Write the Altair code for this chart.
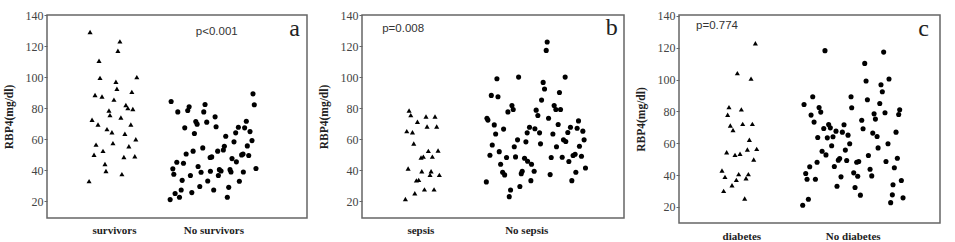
import altair as alt
import pandas as pd

# ---------------- data (x: group position 1/2 plus jitter, y: RBP4 mg/dl) ----------------
a_cats = ["survivors", "No survivors"]
a_tri_x = [0.76, 1.06, 1.04, 0.85, 0.86, 1.23, 1.02, 1.03, 0.81, 0.88, 1.18, 1.00, 1.12, 0.95, 1.14, 1.19, 0.96, 0.78,
           1.07, 0.84, 1.17, 0.93, 0.98, 1.11, 1.22, 0.82, 0.99, 1.15, 0.89, 0.80, 1.10, 1.21, 0.91, 0.92, 1.08, 0.75]
a_tri_y = [129, 123, 117, 110.5, 99.5, 100, 97, 92.5, 88.5, 87.5, 90.5, 85.5, 82, 78.5, 80, 79.5, 75.5, 72.5,
           74, 69.5, 69.5, 66.5, 64.5, 63.5, 60, 56.5, 57.5, 55.5, 52.5, 50, 48.5, 49, 44, 39.5, 37.5, 33]
a_cir_x = [1.575, 1.642, 1.742, 1.756, 1.916, 1.903, 1.823, 1.836, 1.712, 1.933, 2.017, 2.027, 1.809, 2.398, 2.411,
           2.331, 2.251, 2.314, 2.368, 2.224, 2.124, 2.388, 2.207, 2.110, 2.341, 1.893, 1.796, 2.043, 2.100, 1.726,
           2.284, 2.298, 2.355, 1.967, 1.983, 2.187, 2.231, 1.632, 1.699, 1.846, 1.592, 2.428, 2.060, 2.077, 1.970,
           1.876, 2.167, 2.177, 2.301, 1.602, 2.050, 1.769, 1.686, 1.943, 2.261, 1.863, 2.154, 1.676, 2.003, 1.783,
           1.615, 1.659, 1.565, 2.140]
a_cir_y = [84.3, 77.6, 78.5, 80.9, 82.4, 77.6, 71.4, 69.7, 67.3, 71.0, 74.4, 68.0, 63.7, 89.2, 82.2,
           71.6, 67.7, 67.3, 64.9, 64.1, 61.9, 59.1, 58.3, 55.5, 55.7, 54.4, 52.3, 52.3, 53.0, 50.5,
           49.9, 50.5, 49.5, 48.2, 48.6, 47.5, 45.4, 45.2, 44.5, 42.4, 40.9, 41.1, 40.4, 39.5, 39.4,
           38.7, 40.4, 38.9, 38.9, 37.4, 36.6, 36.6, 33.5, 33.1, 32.9, 29.5, 29.0, 27.3, 27.3, 25.6,
           25.0, 22.6, 21.1, 22.6]

b_cats = ["sepsis", "No sepsis"]
b_tri_x = [0.893, 0.909, 1.053, 1.138, 0.972, 1.063, 1.154, 0.871, 0.925, 0.937, 1.075, 1.167, 1.006, 1.028,
           1.113, 0.884, 1.013, 1.101, 1.091, 1.179, 0.962, 0.984, 1.038, 1.129, 0.947, 0.858]
b_tri_y = [78.5, 75.5, 74.6, 74.6, 71.2, 68.2, 68.2, 65.2, 64.5, 57.2, 52.5, 52.7, 48.2, 48.8,
           48.8, 41.1, 39.4, 39.4, 37.0, 37.0, 33.5, 33.8, 27.7, 27.7, 25.2, 21.5]
b_cir_x = [2.198, 2.189, 1.723, 1.928, 2.368, 2.160, 2.173, 2.314, 1.670, 1.733, 2.145, 1.865, 1.877, 1.827,
           2.264, 2.280, 2.324, 2.094, 2.110, 1.629, 1.638, 2.211, 1.698, 2.302, 2.494, 1.786, 2.031, 2.082,
           2.418, 2.481, 1.711, 2.009, 2.126, 2.252, 2.393, 2.535, 2.547, 2.352, 2.374, 1.918, 1.997, 2.135,
           1.679, 1.887, 2.286, 2.503, 1.657, 1.745, 1.814, 1.899, 1.984, 2.013, 2.050, 2.236, 2.340, 2.443,
           2.462, 2.522, 2.403, 1.758, 2.560, 1.777, 1.796, 1.962, 1.953, 2.075, 2.226, 2.469, 1.623, 2.044,
           2.431, 1.940, 1.852, 1.840]
b_cir_y = [122.6, 117.2, 98.9, 100.0, 100.0, 96.6, 92.3, 90.1, 88.2, 87.3, 85.2, 81.7, 79.1, 77.6,
           81.7, 79.1, 79.1, 78.7, 75.3, 73.5, 72.3, 73.5, 69.2, 69.5, 71.8, 66.5, 67.7, 66.7,
           67.7, 67.1, 63.4, 64.1, 64.1, 63.4, 64.3, 65.2, 59.6, 59.6, 58.5, 59.6, 58.3, 57.0,
           56.3, 55.1, 55.1, 55.5, 49.7, 52.0, 48.2, 48.6, 47.7, 45.8, 43.9, 48.2, 48.4, 49.5,
           50.3, 49.0, 45.6, 43.9, 41.5, 38.7, 37.0, 39.4, 37.8, 39.4, 37.2, 38.7, 32.5, 33.3,
           33.3, 29.5, 27.3, 23.0]

c_cats = ["diabetes", "No diabetes"]
c_tri_x = [1.126, 0.964, 1.087, 0.889, 1.000, 0.877, 0.901, 0.925, 1.012, 1.099, 1.072, 0.868, 1.054,
           1.138, 0.943, 0.988, 1.111, 0.826, 0.853, 0.976, 1.063, 0.955, 1.042, 0.916, 0.841, 1.030]
c_tri_y = [122.8, 104.1, 100.6, 82.7, 81.3, 77.9, 71.2, 68.3, 72.2, 72.2, 62.2, 54.4, 56.1,
           56.5, 52.7, 53.4, 49.8, 42.9, 38.9, 40.6, 40.6, 37.0, 38.0, 33.6, 30.1, 25.3]
c_cir_x = [1.751, 2.278, 2.108, 2.120, 2.326, 2.254, 2.266, 1.641, 1.985, 2.132, 2.243, 1.563, 1.698, 1.713,
           1.991, 2.422, 2.413, 2.290, 2.192, 2.204, 1.626, 1.653, 2.081, 1.784, 1.799, 1.922, 1.740, 2.093,
           1.850, 1.907, 1.958, 2.180, 2.219, 2.389, 1.686, 1.772, 1.823, 1.973, 1.811, 2.228, 2.317, 1.725,
           1.934, 1.760, 2.141, 1.883, 1.871, 1.946, 2.401, 1.680, 2.036, 2.054, 2.299, 1.835, 1.614, 2.156,
           2.374, 1.578, 2.009, 2.171, 2.045, 1.895, 1.590, 1.665, 2.437, 2.362, 1.859, 2.021, 2.069, 2.356,
           2.452, 1.602, 2.341, 1.551]
c_cir_y = [118.2, 117.3, 110.2, 99.1, 100.4, 96.8, 92.4, 89.2, 89.2, 87.3, 85.0, 84.4, 82.5, 79.6,
           82.3, 81.1, 78.1, 79.2, 78.5, 75.2, 77.7, 73.3, 74.5, 71.8, 69.7, 71.6, 69.3, 69.1,
           67.6, 67.0, 65.1, 66.4, 64.3, 67.0, 63.6, 63.4, 64.1, 59.7, 58.4, 57.1, 59.7, 55.0,
           55.7, 52.7, 52.3, 50.4, 49.4, 49.2, 50.6, 48.1, 48.1, 48.5, 48.5, 45.4, 45.2, 43.7,
           44.6, 41.0, 41.4, 39.5, 39.3, 38.9, 37.4, 37.4, 36.6, 33.9, 33.0, 32.2, 27.4, 27.6,
           25.7, 24.8, 22.7, 21.1]

p_texts = ["p<0.001", "p=0.008", "p=0.774"]
letters = ["a", "b", "c"]
y_ticks = [20, 40, 60, 80, 100, 120, 140]

SERIF = "Liberation Serif"
SANS = "Liberation Sans"


def make_panel(tri_x, tri_y, cir_x, cir_y, cats, xdom, ydom, w, h, ptext, pxy, letter, lxy, lab_pad):
    df_t = pd.DataFrame({"x": tri_x, "y": tri_y})
    df_c = pd.DataFrame({"x": cir_x, "y": cir_y})
    xs = alt.Scale(domain=xdom, nice=False, zero=False)
    ys = alt.Scale(domain=ydom, nice=False, zero=False)
    xax = alt.Axis(values=[1, 2], labelExpr=f"datum.value == 1 ? '{cats[0]}' : '{cats[1]}'",
                   domain=False, ticks=False, grid=False, title=None, labelFont=SERIF,
                   labelFontWeight="bold", labelFontSize=11, labelColor="#222", labelPadding=lab_pad)
    yax = alt.Axis(values=y_ticks, grid=False, domain=False, tickSize=3, tickColor="#666",
                   tickWidth=1, labelFont=SERIF, labelFontSize=12, labelColor="#444", labelPadding=1,
                   labelOverlap=False, labelFlush=False, labelBound=False,
                   title="RBP4(mg/dl)", titleFont=SERIF, titleFontWeight="bold", titleFontSize=11.5,
                   titleColor="#222", titleX=-38, titleBaseline="middle")
    tri = alt.Chart(df_t).mark_point(shape="triangle-up", filled=True, color="black", size=26,
                                     opacity=1).encode(
        x=alt.X("x:Q", scale=xs, axis=xax), y=alt.Y("y:Q", scale=ys, axis=yax))
    cir = alt.Chart(df_c).mark_circle(color="black", size=26, opacity=1).encode(
        x=alt.X("x:Q", scale=xs, axis=xax), y=alt.Y("y:Q", scale=ys, axis=yax))
    ptx = alt.Chart(pd.DataFrame({"t": [ptext]})).mark_text(
        font=SANS, fontSize=11.5, color="#333", baseline="middle", align="center").encode(
        x=alt.datum(pxy[0], scale=xs, axis=xax), y=alt.datum(pxy[1], scale=ys, axis=yax), text="t:N")
    let = alt.Chart(pd.DataFrame({"t": [letter]})).mark_text(
        font=SERIF, fontSize=24, color="#222", baseline="alphabetic", align="center").encode(
        x=alt.datum(lxy[0], scale=xs, axis=xax), y=alt.datum(lxy[1], scale=ys, axis=yax), text="t:N")
    return alt.layer(tri, cir, ptx, let).properties(width=w, height=h)


pa = make_panel(a_tri_x, a_tri_y, a_cir_x, a_cir_y, a_cats, [0.327, 2.941], [9.25, 140], 260, 203,
                p_texts[0], (2.034, 128.8), letters[0], (2.816, 126.5), 6)
pb = make_panel(b_tri_x, b_tri_y, b_cir_x, b_cir_y, b_cats, [0.448, 2.924], [9.25, 140], 262, 203,
                p_texts[1], (0.837, 130.8), letters[1], (2.808, 126.9), 6)
pc = make_panel(c_tri_x, c_tri_y, c_cir_x, c_cir_y, c_cats, [0.440, 2.784], [9.9, 140.6], 261, 208,
                p_texts[2], (0.781, 133.7), letters[2], (2.637, 127.4), 7)

chart = alt.hconcat(pa, pb, pc, spacing=55, bounds="flush").properties(
    padding={"left": 2, "top": 8, "right": 0, "bottom": 0},
    background="white",
).configure_view(stroke="#666", strokeWidth=1.5).configure_axis(labelOverlap=False)

chart.save("out.html", embed_options={"renderer": "svg", "actions": False})
